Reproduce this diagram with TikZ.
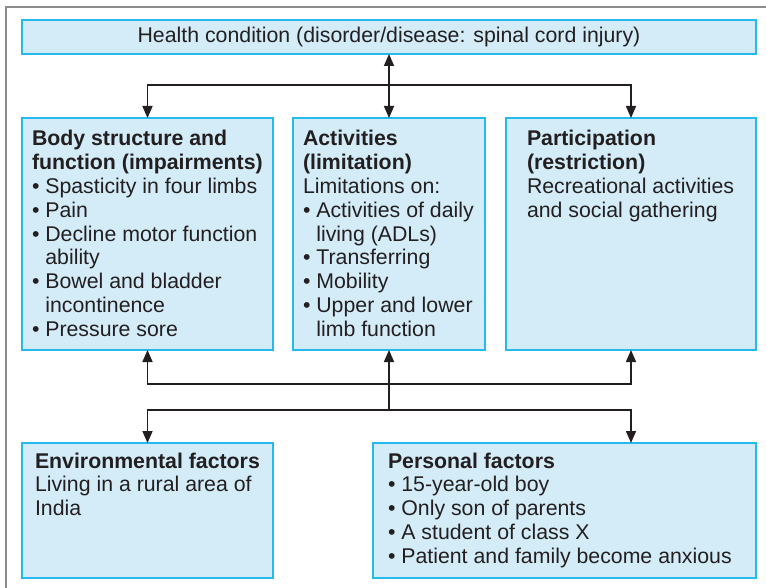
\documentclass[tikz,border=0pt]{standalone}
\usepackage{fontspec}
\setmainfont{Liberation Sans}
\usetikzlibrary{arrows.meta}

\definecolor{boxfill}{RGB}{211,236,248}
\definecolor{boxline}{RGB}{38,186,236}
\definecolor{ink}{RGB}{35,31,32}
\definecolor{framegray}{RGB}{140,140,140}

\newlength{\bulw}
% bulleted item with hanging indent under the text
\newcommand{\itm}{\par\hangindent=\bulw\hangafter=1 \textbullet\ }
% a block of box text, top line on the node's baseline
\newcommand{\blk}[2]{\parbox[t]{#1}{\fontsize{21.3}{23.8}\selectfont\raggedright
  \settowidth{\bulw}{\textbullet\ }#2}}

\tikzset{
  >={Triangle[length=12pt,width=10pt]},
  box/.style={draw=boxline, fill=boxfill, line width=1.8pt, rectangle,
              anchor=north west, inner sep=0pt, outer sep=0pt},
  txt/.style={anchor=base west, inner sep=0pt, outer sep=0pt, text=ink},
  conn/.style={draw=ink, line width=1.6pt, ->},
  framestroke/.style={draw=framegray, line width=1.6pt},
}

\begin{document}
\begin{tikzpicture}[x=1pt,y=1pt]
\useasboundingbox (0,0) rectangle (766,-588);

% partial outer frame
\draw[framestroke] (6,-588) -- (6,-7) -- (766,-7);

% boxes
\node[box, minimum width=734pt, minimum height=34pt] (hc)   at (22,-20)  {};
\node[box, minimum width=251pt, minimum height=232pt] (body) at (22,-118) {};
\node[box, minimum width=192pt, minimum height=232pt] (act)  at (293,-118) {};
\node[box, minimum width=250pt, minimum height=232pt] (part) at (506,-118) {};
\node[box, minimum width=251pt, minimum height=135pt] (env)  at (22,-443) {};
\node[box, minimum width=383pt, minimum height=135pt] (pers) at (373,-443) {};

% texts
\node[txt, anchor=base] (hct) at (389,-43)
  {\fontsize{21.3}{23.8}\selectfont Health condition (disorder/disease: spinal cord injury)};

\node[txt] (bodyt) at (32,-146) {\blk{240pt}{%
  {\bfseries Body structure and\newline function (impairments)}
  \itm Spasticity in four limbs
  \itm Pain
  \itm Decline motor function\newline ability
  \itm Bowel and bladder\newline incontinence
  \itm Pressure sore}};

\node[txt] (actt) at (303,-146) {\blk{180pt}{%
  {\bfseries Activities\newline (limitation)}\par
  Limitations on:
  \itm Activities of daily\newline living (ADLs)
  \itm Transferring
  \itm Mobility
  \itm Upper and lower\newline limb function}};

\node[txt] (partt) at (527,-146) {\blk{225pt}{%
  {\bfseries Participation\newline (restriction)}\par
  Recreational activities\newline and social gathering}};

\node[txt] (envt) at (35,-468) {\blk{235pt}{%
  {\bfseries Environmental factors}\par
  Living in a rural area of\newline India}};

\node[txt] (perst) at (388,-468) {\blk{365pt}{%
  {\bfseries Personal factors}
  \itm 15-year-old boy
  \itm Only son of parents
  \itm A student of class X
  \itm Patient and family become anxious}};

% connectors
\coordinate (hub) at (389,-85);
\coordinate (mid) at (389,-384);
\coordinate (low) at (389,-410);

\draw[conn, <->] (hc.south) -- (act.north);
\draw[conn] (hub) -| (body.north);
\draw[conn] (hub) -| (part.north);

\draw[conn] (mid) -| (body.south);
\draw[conn] (mid) -| (part.south);
\draw[conn] (low) -- (act.south);
\draw[conn] (low) -| (env.north);
\draw[conn] (low) -| ([xshift=66.5pt]pers.north);
\end{tikzpicture}
\end{document}
